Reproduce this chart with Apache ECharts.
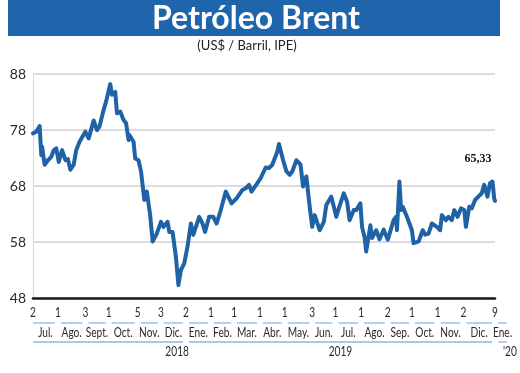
<!DOCTYPE html>
<html><head><meta charset="utf-8">
<script src="https://cdn.jsdelivr.net/npm/echarts@6/dist/echarts.min.js"></script>
<style>
html,body{margin:0;padding:0;background:#fff;}
#chart{width:520px;height:373px;}
</style></head><body>
<div id="chart"></div>
<script>
// ---------- DATA ----------
const titleText = 'Petróleo Brent';
const subtitleText = '(US$ / Barril, IPE)';

const dates = [
'2018-07-02','2018-07-06','2018-07-10','2018-07-12','2018-07-13','2018-07-16','2018-07-20','2018-07-24','2018-07-27','2018-07-30',
'2018-08-02','2018-08-06','2018-08-07','2018-08-10','2018-08-13','2018-08-16','2018-08-20','2018-08-23','2018-08-27',
'2018-09-03','2018-09-07','2018-09-13','2018-09-17','2018-09-20','2018-09-25','2018-09-27','2018-09-28',
'2018-10-03','2018-10-05','2018-10-09','2018-10-11','2018-10-15','2018-10-19','2018-10-22','2018-10-25','2018-10-26','2018-10-31',
'2018-11-02','2018-11-06','2018-11-09','2018-11-13','2018-11-16','2018-11-20','2018-11-23','2018-11-28',
'2018-12-03','2018-12-06','2018-12-11','2018-12-13','2018-12-17','2018-12-21','2018-12-24','2018-12-27','2018-12-31',
'2019-01-04','2019-01-08','2019-01-11','2019-01-18','2019-01-22','2019-01-25','2019-01-30',
'2019-02-04','2019-02-08','2019-02-13','2019-02-19','2019-02-22','2019-02-26',
'2019-03-04','2019-03-11','2019-03-15','2019-03-19','2019-03-22','2019-03-29',
'2019-04-02','2019-04-08','2019-04-12','2019-04-16','2019-04-22','2019-04-24','2019-04-29','2019-04-30',
'2019-05-03','2019-05-07','2019-05-10','2019-05-15','2019-05-20','2019-05-23','2019-05-27','2019-05-31',
'2019-06-03','2019-06-06','2019-06-12','2019-06-17','2019-06-20','2019-06-26',
'2019-07-02','2019-07-05','2019-07-11','2019-07-15','2019-07-18','2019-07-23','2019-07-26','2019-07-31',
'2019-08-02','2019-08-05','2019-08-07','2019-08-12','2019-08-14','2019-08-19','2019-08-23','2019-08-28',
'2019-09-02','2019-09-09','2019-09-12','2019-09-13','2019-09-16','2019-09-18','2019-09-20','2019-09-25','2019-09-27',
'2019-10-01','2019-10-03','2019-10-09','2019-10-14','2019-10-17','2019-10-21','2019-10-25','2019-10-31',
'2019-11-04','2019-11-06','2019-11-11','2019-11-14','2019-11-18','2019-11-21','2019-11-25','2019-11-29',
'2019-12-03','2019-12-05','2019-12-09','2019-12-12','2019-12-16','2019-12-20','2019-12-24','2019-12-27','2019-12-31',
'2020-01-03','2020-01-06','2020-01-08','2020-01-09'
];
const prices = [
77.4,77.7,78.7,73.5,75.0,71.8,72.6,73.2,74.4,74.7,
72.3,74.4,74.6,72.6,72.8,70.9,71.8,74.4,75.9,
77.7,76.5,79.7,78.0,78.6,81.6,81.3,83.1,
86.2,84.3,84.8,81.0,81.3,79.8,79.2,76.2,77.1,75.9,
72.9,72.6,70.6,65.5,67.0,62.8,58.1,59.5,
61.6,60.7,61.6,59.8,59.8,55.3,50.3,53.0,54.2,
57.2,61.3,59.3,62.5,61.3,59.8,62.5,
62.5,61.3,63.7,67.0,66.1,64.9,
65.8,67.3,67.6,68.2,67.0,68.5,
69.4,71.3,71.2,71.8,74.1,75.5,72.6,72.3,
70.6,70.0,70.6,72.6,71.8,67.9,69.7,64.3,
60.7,62.8,60.1,61.6,64.6,66.1,
62.5,64.0,66.7,65.2,61.9,63.7,63.7,64.9,
60.7,58.9,56.3,61.0,58.7,60.1,58.5,60.2,
58.4,61.9,62.5,60.1,68.8,63.7,64.3,62.5,62.5,
60.1,57.8,58.1,60.1,59.3,59.5,61.3,60.7,
60.1,62.8,61.9,62.5,61.9,63.7,62.5,64.0,
63.7,60.7,64.3,64.0,65.5,66.1,66.7,68.2,66.1,
68.5,68.8,65.8,65.33
];

const yMin = 48, yMax = 88, yStep = 10;

const monthStarts = ['2018-07-02','2018-08-01','2018-09-03','2018-10-01','2018-11-05','2018-12-03',
  '2019-01-02','2019-02-01','2019-03-01','2019-04-01','2019-05-01','2019-06-03','2019-07-01',
  '2019-08-01','2019-09-02','2019-10-01','2019-11-01','2019-12-02','2020-01-09'];
const dayLabels = ['2','1','3','1','5','3','2','1','1','1','1','3','1','1','2','1','1','2','9'];
const monthNames = ['Jul.','Ago.','Sept.','Oct.','Nov.','Dic.','Ene.','Feb.','Mar.','Abr.','May.','Jun.',
  'Jul.','Ago.','Sep.','Oct.','Nov.','Dic.','Ene.'];
const labelRangeEnd = '2020-01-27';
const years = ['2018','2019',"'20"];
const yearStarts = ['2018-07-02','2019-01-02','2020-01-09'];

// ---------- HELPERS ----------
function ts(s){ const p = s.split('-').map(Number); return new Date(p[0], p[1]-1, p[2]).getTime(); }
const lineData = dates.map((d,i)=>[ts(d), prices[i]]);
const lastIdx = prices.length - 1;
const lastText = prices[lastIdx].toFixed(2).replace('.', ',');

const monthData = monthStarts.map((s,i)=>[ts(s), ts(i < monthStarts.length-1 ? monthStarts[i+1] : labelRangeEnd), yMin]);
const yearData = yearStarts.map((s,i)=>[ts(s), ts(i < yearStarts.length-1 ? yearStarts[i+1] : labelRangeEnd), yMin]);

const axisFont = "13px Lato, sans-serif";
const squeeze = 0.78;
const axisTextColor = '#2a2a2a';
const accentLine = '#8fb6dd';

function narrowText(x, y, text, align){
  return {type:'text', x:x, y:y, scaleX:squeeze,
    style:{x:0, y:0, text:text, fill:axisTextColor, font:axisFont, align:align || 'center', verticalAlign:'middle'}};
}

const chart = echarts.init(document.getElementById('chart'), null, {renderer:'canvas'});
chart.setOption({
  animation: false,
  backgroundColor: '#fff',
  graphic: [
    {type:'rect', shape:{x:8, y:0, width:492, height:36}, style:{fill:'#1f65ab'}, z:0},
    {type:'text', x:256, y:19, style:{text:titleText, fill:'#fff', font:'bold 32px Lato, sans-serif', align:'center', verticalAlign:'middle'}, z:1},
    {type:'text', x:247, y:46, style:{text:subtitleText, fill:'#222', font:'13px Lato, sans-serif', align:'center', verticalAlign:'middle'}, z:1}
  ],
  grid: {left:33, right:25, top:74, bottom:75, containLabel:false},
  xAxis: {
    type:'time', min: ts(dates[0]), max: ts(dates[lastIdx]),
    axisLine:{show:true, onZero:false, lineStyle:{color:'#1a1a1a', width:2.5}},
    axisTick:{show:false}, axisLabel:{show:false}, splitLine:{show:false}
  },
  yAxis: {
    type:'value', min:yMin, max:yMax, interval:yStep,
    axisLine:{show:true, lineStyle:{color:'#d6d6d6', width:1}},
    axisTick:{show:false},
    axisLabel:{color:axisTextColor, fontSize:14, fontFamily:'Lato, sans-serif', margin:7},
    splitLine:{show:true, lineStyle:{color:'#d0d0d0', width:1.5}}
  },
  series: [
    {
      type:'line', data: lineData, showSymbol:false, symbol:'none', z:3,
      lineStyle:{color:'#1f63a6', width:4, join:'round', cap:'round'},
      markPoint:{
        symbol:'circle', symbolSize:0, silent:true,
        data:[{coord:lineData[lastIdx], value:prices[lastIdx]}],
        label:{show:true, formatter:lastText, position:'inside', offset:[-17,-42],
          color:'#111', fontFamily:"'Liberation Serif', serif", fontWeight:'bold', fontSize:12}
      }
    },
    {
      type:'custom', data: monthData, clip:false, silent:true, z:2,
      encode:{x:[0,1], y:2},
      renderItem: function(params, api){
        const i = params.dataIndex;
        const p0 = api.coord([api.value(0), api.value(2)]);
        const p1 = api.coord([api.value(1), api.value(2)]);
        const y = p0[1];
        const xa = i === 0 ? p0[0] : p0[0] + 3;
        const xb = p1[0] - 3;
        return {type:'group', children:[
          narrowText(p0[0], y+15, dayLabels[i]),
          {type:'line', shape:{x1:xa, y1:y+25, x2:xb, y2:y+25}, style:{stroke:accentLine, lineWidth:1.3}},
          narrowText((p0[0]+p1[0])/2, y+35, monthNames[i])
        ]};
      }
    },
    {
      type:'custom', data: yearData, clip:false, silent:true, z:2,
      encode:{x:[0,1], y:2},
      renderItem: function(params, api){
        const i = params.dataIndex;
        const p0 = api.coord([api.value(0), api.value(2)]);
        const p1 = api.coord([api.value(1), api.value(2)]);
        const y = p0[1];
        const xa = i === 0 ? p0[0] : p0[0] + 3;
        const xb = p1[0] - 3;
        const aligns = ['right','center','left'];
        const lx = aligns[i] === 'right' ? p1[0] + 3 : aligns[i] === 'left' ? p0[0] + 8 : (p0[0]+p1[0])/2;
        return {type:'group', children:[
          {type:'line', shape:{x1:xa, y1:y+44, x2:xb, y2:y+44}, style:{stroke:accentLine, lineWidth:1.3}},
          narrowText(lx, y+54, years[i], aligns[i])
        ]};
      }
    }
  ]
});
</script>
</body></html>
